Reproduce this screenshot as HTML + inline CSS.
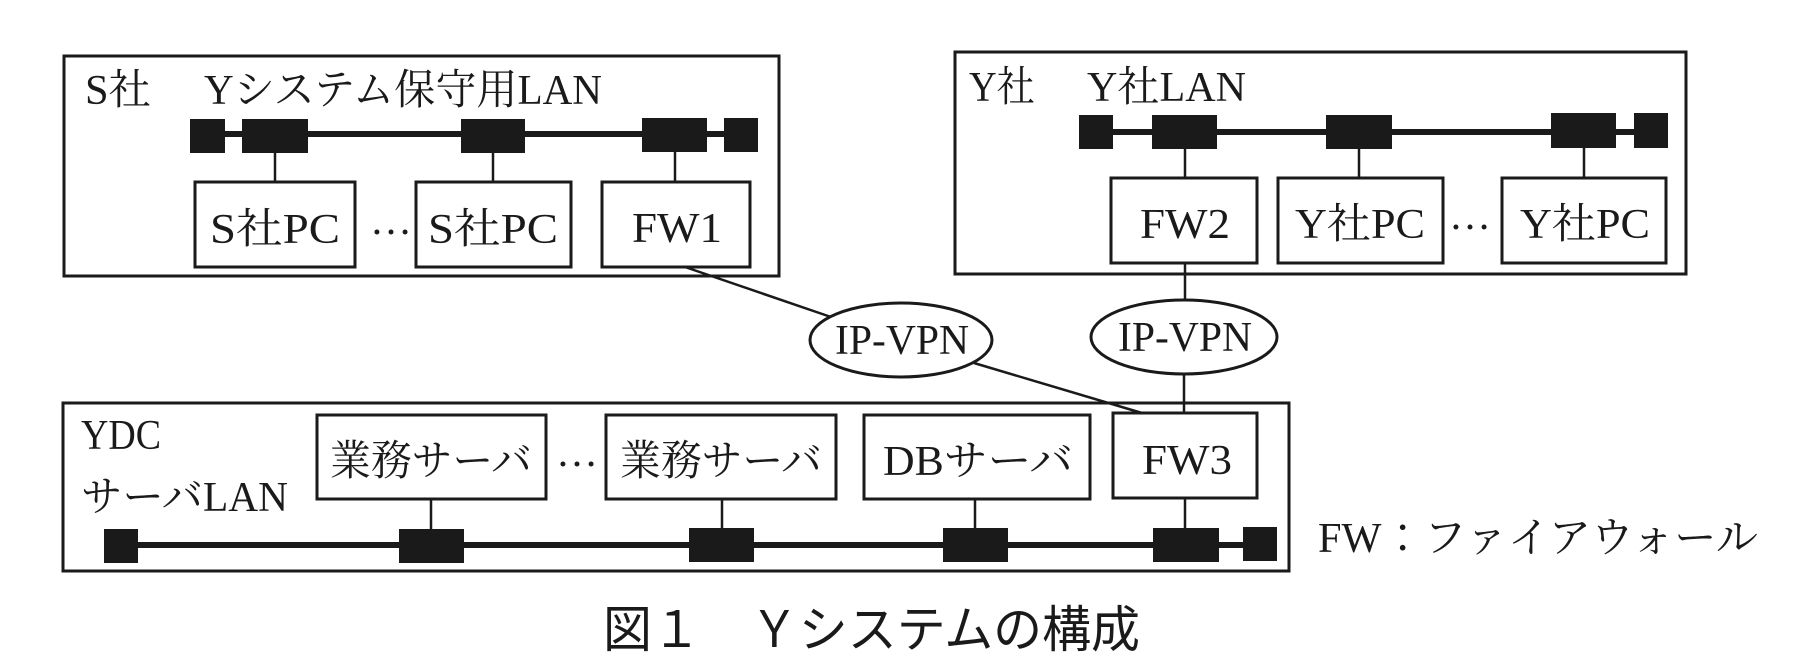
<!DOCTYPE html>
<html><head><meta charset="utf-8"><style>
html,body{margin:0;padding:0;background:#fff;}
svg{display:block;}
.t{font-family:"Liberation Serif","Noto Serif CJK JP",serif;font-size:42px;fill:#1a1a1a;}
.c{font-family:"Liberation Sans","Noto Sans CJK JP",sans-serif;font-size:50px;fill:#1a1a1a;}
</style></head><body>
<svg width="1806" height="672" viewBox="0 0 1806 672" xmlns="http://www.w3.org/2000/svg">
<g fill="none" stroke="#1a1a1a" stroke-width="3">
<rect x="64" y="56" width="715" height="220"/>
<rect x="955" y="52" width="731" height="222"/>
<rect x="63" y="403" width="1226" height="168"/>
<rect x="195" y="182" width="160" height="85"/>
<rect x="416" y="182" width="155" height="85"/>
<rect x="602" y="182" width="148" height="85"/>
<rect x="1111" y="178" width="146" height="85"/>
<rect x="1278" y="178" width="165" height="85"/>
<rect x="1502" y="178" width="164" height="85"/>
<rect x="317" y="415" width="229" height="84"/>
<rect x="606" y="415" width="230" height="84"/>
<rect x="864" y="415" width="226" height="84"/>
<rect x="1113" y="413" width="144" height="85"/>
<ellipse cx="901" cy="340" rx="91" ry="37"/>
<ellipse cx="1184" cy="337" rx="93" ry="37"/>
</g>
<g stroke="#1a1a1a" stroke-width="2.5" fill="none">
<line x1="275" y1="150" x2="275" y2="182"/>
<line x1="493" y1="150" x2="493" y2="182"/>
<line x1="675" y1="150" x2="675" y2="182"/>
<line x1="1185" y1="146" x2="1185" y2="178"/>
<line x1="1359" y1="146" x2="1359" y2="178"/>
<line x1="1584" y1="146" x2="1584" y2="178"/>
<line x1="1185" y1="263" x2="1185" y2="300"/>
<line x1="1184" y1="374" x2="1184" y2="413"/>
<line x1="431" y1="499" x2="431" y2="530"/>
<line x1="722" y1="499" x2="722" y2="530"/>
<line x1="975" y1="499" x2="975" y2="530"/>
<line x1="1185" y1="498" x2="1185" y2="530"/>
<line x1="685" y1="267" x2="831" y2="317"/>
<line x1="974" y1="363" x2="1142" y2="413"/>
</g>
<g stroke="#1a1a1a" stroke-width="6">
<line x1="205" y1="134" x2="740" y2="134"/>
<line x1="1095" y1="132" x2="1650" y2="132"/>
<line x1="120" y1="545" x2="1260" y2="545"/>
</g>
<g fill="#1a1a1a">
<rect x="190" y="119" width="35" height="34"/>
<rect x="242" y="119" width="66" height="34"/>
<rect x="461" y="119" width="64" height="34"/>
<rect x="642" y="118" width="65" height="34"/>
<rect x="724" y="118" width="34" height="34"/>
<rect x="1079" y="115" width="34" height="34"/>
<rect x="1152" y="115" width="65" height="34"/>
<rect x="1326" y="115" width="66" height="34"/>
<rect x="1551" y="113" width="65" height="35"/>
<rect x="1634" y="113" width="34" height="35"/>
<rect x="104" y="529" width="34" height="34"/>
<rect x="399" y="529" width="65" height="34"/>
<rect x="689" y="528" width="65" height="34"/>
<rect x="943" y="528" width="65" height="34"/>
<rect x="1153" y="528" width="66" height="34"/>
<rect x="1243" y="527" width="34" height="34"/>
</g>
<g class="t">
<text x="85" y="104" textLength="66" lengthAdjust="spacingAndGlyphs">S社</text>
<text x="204" y="104" textLength="398" lengthAdjust="spacingAndGlyphs">Yシステム保守用LAN</text>
<text x="210" y="243" textLength="130" lengthAdjust="spacingAndGlyphs">S社PC</text>
<text x="370" y="234">…</text>
<text x="428" y="243" textLength="130" lengthAdjust="spacingAndGlyphs">S社PC</text>
<text x="632" y="242" textLength="90" lengthAdjust="spacingAndGlyphs">FW1</text>
<text x="969" y="101" textLength="66" lengthAdjust="spacingAndGlyphs">Y社</text>
<text x="1087" y="101" textLength="159" lengthAdjust="spacingAndGlyphs">Y社LAN</text>
<text x="1140" y="238" textLength="90" lengthAdjust="spacingAndGlyphs">FW2</text>
<text x="1295" y="238" textLength="130" lengthAdjust="spacingAndGlyphs">Y社PC</text>
<text x="1449" y="229">…</text>
<text x="1520" y="238" textLength="130" lengthAdjust="spacingAndGlyphs">Y社PC</text>
<text x="81" y="449" textLength="80" lengthAdjust="spacingAndGlyphs">YDC</text>
<text x="81" y="511" textLength="207" lengthAdjust="spacingAndGlyphs">サーバLAN</text>
<text x="330" y="475" textLength="202" lengthAdjust="spacingAndGlyphs">業務サーバ</text>
<text x="556" y="466">…</text>
<text x="620" y="475" textLength="202" lengthAdjust="spacingAndGlyphs">業務サーバ</text>
<text x="883" y="475" textLength="190" lengthAdjust="spacingAndGlyphs">DBサーバ</text>
<text x="1142" y="474" textLength="90" lengthAdjust="spacingAndGlyphs">FW3</text>
<text x="1318" y="552" textLength="440" lengthAdjust="spacingAndGlyphs">FW：ファイアウォール</text>
<text x="835" y="354" textLength="134" lengthAdjust="spacingAndGlyphs">IP-VPN</text>
<text x="1118" y="351" textLength="134" lengthAdjust="spacingAndGlyphs">IP-VPN</text>
</g>
<text class="c" x="603" y="647" textLength="537" lengthAdjust="spacingAndGlyphs">図１　Ｙシステムの構成</text>
</svg>
</body></html>
